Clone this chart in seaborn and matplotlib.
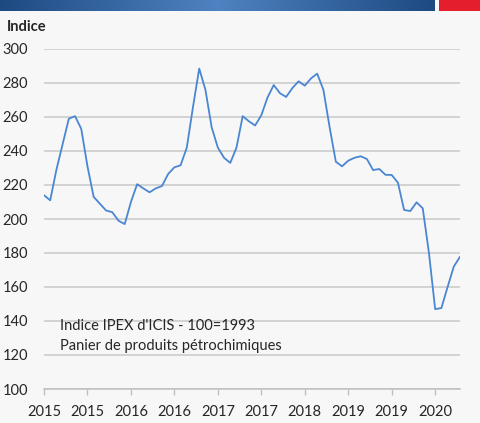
import numpy as np
import pandas as pd
import matplotlib
matplotlib.use("Agg")
import matplotlib.pyplot as plt
import seaborn as sns
from matplotlib.patches import Rectangle
from matplotlib.colors import LinearSegmentedColormap

# Indice IPEX d'ICIS, mensuel, janvier 2015 -> août 2020
ipex_values = [
    214, 211, 229, 244, 259, 260.5, 253, 231, 213, 209, 205, 204,
    199, 197, 210, 220.5, 218, 215.7, 218, 219.4, 226.5, 230.4, 231.6, 242,
    266, 288.5, 276, 254, 242, 236, 233, 242, 260.5, 257.5, 255, 261,
    271.5, 278.8, 274, 271.8, 277, 281, 278.4, 282.7, 285.5, 276, 254, 233.7,
    231, 234.3, 236, 236.9, 235.3, 228.8, 229.4, 226, 225.9, 221.4, 205.3, 204.7,
    209.8, 206.3, 180, 147, 147.6, 160, 172, 177.8,
]
month_index = list(range(len(ipex_values)))
tick_months = list(range(0, 68, 7))
tick_labels = ["2015", "2015", "2016", "2016", "2017", "2017", "2018", "2019", "2019", "2020"]
y_ticks = [100, 120, 140, 160, 180, 200, 220, 240, 260, 280, 300]

df = pd.DataFrame({"mois": month_index, "indice": ipex_values})

sns.set_theme(style="white")
plt.rcParams["font.family"] = ["Lato", "DejaVu Sans"]

bg = "#f7f7f7"
W, H = 481, 423
fig = plt.figure(figsize=(W / 100, H / 100), dpi=100, facecolor=bg)

# bandeau du haut (dégradé bleu + carré rouge)
band = fig.add_axes([0, 1 - 11 / H, 435 / W, 11 / H])
grad = 1 - np.abs(np.linspace(-1, 1, 256))
cmap = LinearSegmentedColormap.from_list("band", ["#1e4a82", "#4e82c0"])
band.imshow(grad[np.newaxis, :], aspect="auto", cmap=cmap, extent=[0, 1, 0, 1])
band.axis("off")
fig.add_artist(Rectangle((439 / W, 1 - 11 / H), 42 / W, 11 / H,
                         transform=fig.transFigure, color="#e41e2d", lw=0))

ax = fig.add_axes([44 / W, (H - 389) / H, (460 - 44) / W, (389 - 49) / H])
ax.set_facecolor(bg)
sns.lineplot(data=df, x="mois", y="indice", ax=ax, color="#4a86d2", linewidth=1.3)

ax.set_xlim(0, 67)
ax.set_ylim(100, 300)
ax.set_yticks(y_ticks)
ax.set_xticks(tick_months)
ax.set_xticklabels(tick_labels)
ax.grid(axis="y", color="#c9c9c9", linewidth=1.1)
ax.set_axisbelow(True)
for s in ["top", "right", "left"]:
    ax.spines[s].set_visible(False)
ax.spines["bottom"].set_color("#bfbfbf")
ax.spines["bottom"].set_linewidth(1.1)
ax.tick_params(axis="x", direction="out", length=4, width=1, color="#bfbfbf",
               pad=7.5, labelsize=10.5, labelcolor="#262626", bottom=True)
ax.tick_params(axis="y", length=0, pad=11.5, labelsize=10.5, labelcolor="#262626")
ax.set_xlabel("")
ax.set_ylabel("")

fig.text(7 / W, 1 - 27 / H, "Indice", fontsize=10.5, fontweight="bold",
         color="#262626", va="center", ha="left")
fig.text(60 / W, 1 - 326 / H, "Indice IPEX d'ICIS - 100=1993",
         fontsize=10.5, color="#262626", va="center", ha="left")
fig.text(60 / W, 1 - 346 / H, "Panier de produits pétrochimiques",
         fontsize=10.5, color="#262626", va="center", ha="left")

fig.savefig("out.png", dpi=100, facecolor=bg)
